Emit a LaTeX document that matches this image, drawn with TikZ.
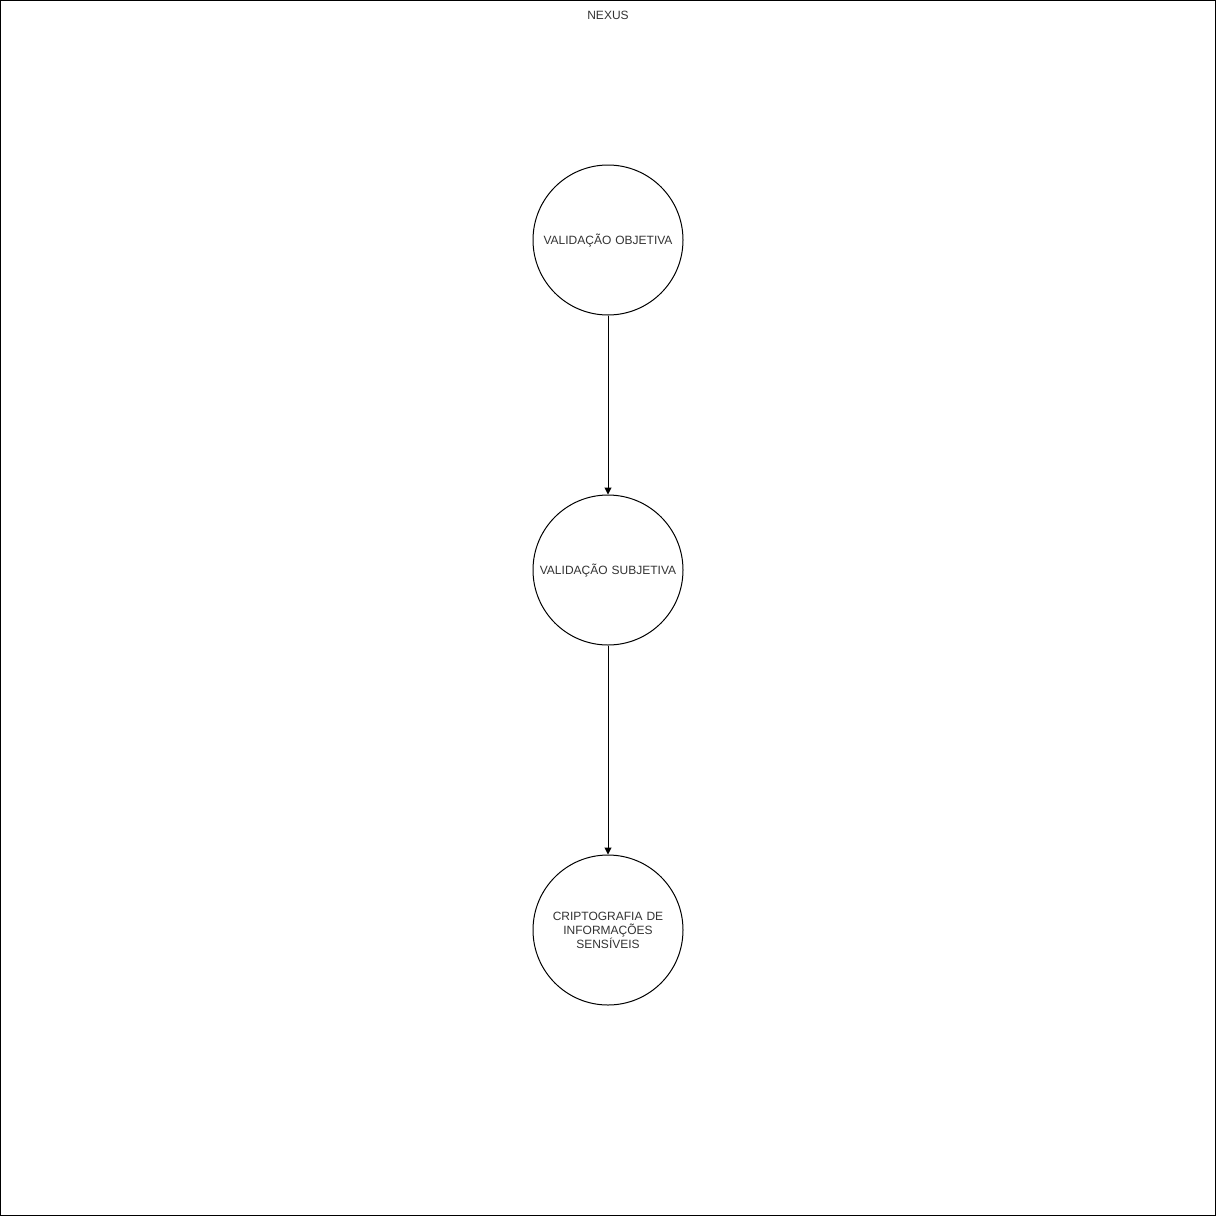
\documentclass[tikz,border=0pt]{standalone}
\usepackage{fontspec}
\setmainfont{Liberation Sans}
\usetikzlibrary{arrows.meta}
\begin{document}
\begin{tikzpicture}[x=1pt,y=-1pt,
  every node/.style={font=\fontsize{12}{14}\selectfont, text=black!80},
  circ/.style={circle, draw=black, line width=1pt, minimum size=150pt, inner sep=0pt, align=center, text width=140pt},
  conn/.style={draw=black, line width=1pt, -{Triangle[length=7pt,width=7pt]}}]
\useasboundingbox (0,0) rectangle (1216,1216);
\draw[line width=1pt] (0.5,0.5) rectangle (1215.5,1215.5);
\node (title) at (608,15) {NEXUS};
\node[circ] (a) at (608,240) {VALIDAÇÃO OBJETIVA};
\node[circ] (b) at (608,570) {VALIDAÇÃO SUBJETIVA};
\node[circ] (c) at (608,930) {CRIPTOGRAFIA DE\\INFORMAÇÕES\\SENSÍVEIS};
\draw[conn] (a) -- (b);
\draw[conn] (b) -- (c);
\end{tikzpicture}
\end{document}
